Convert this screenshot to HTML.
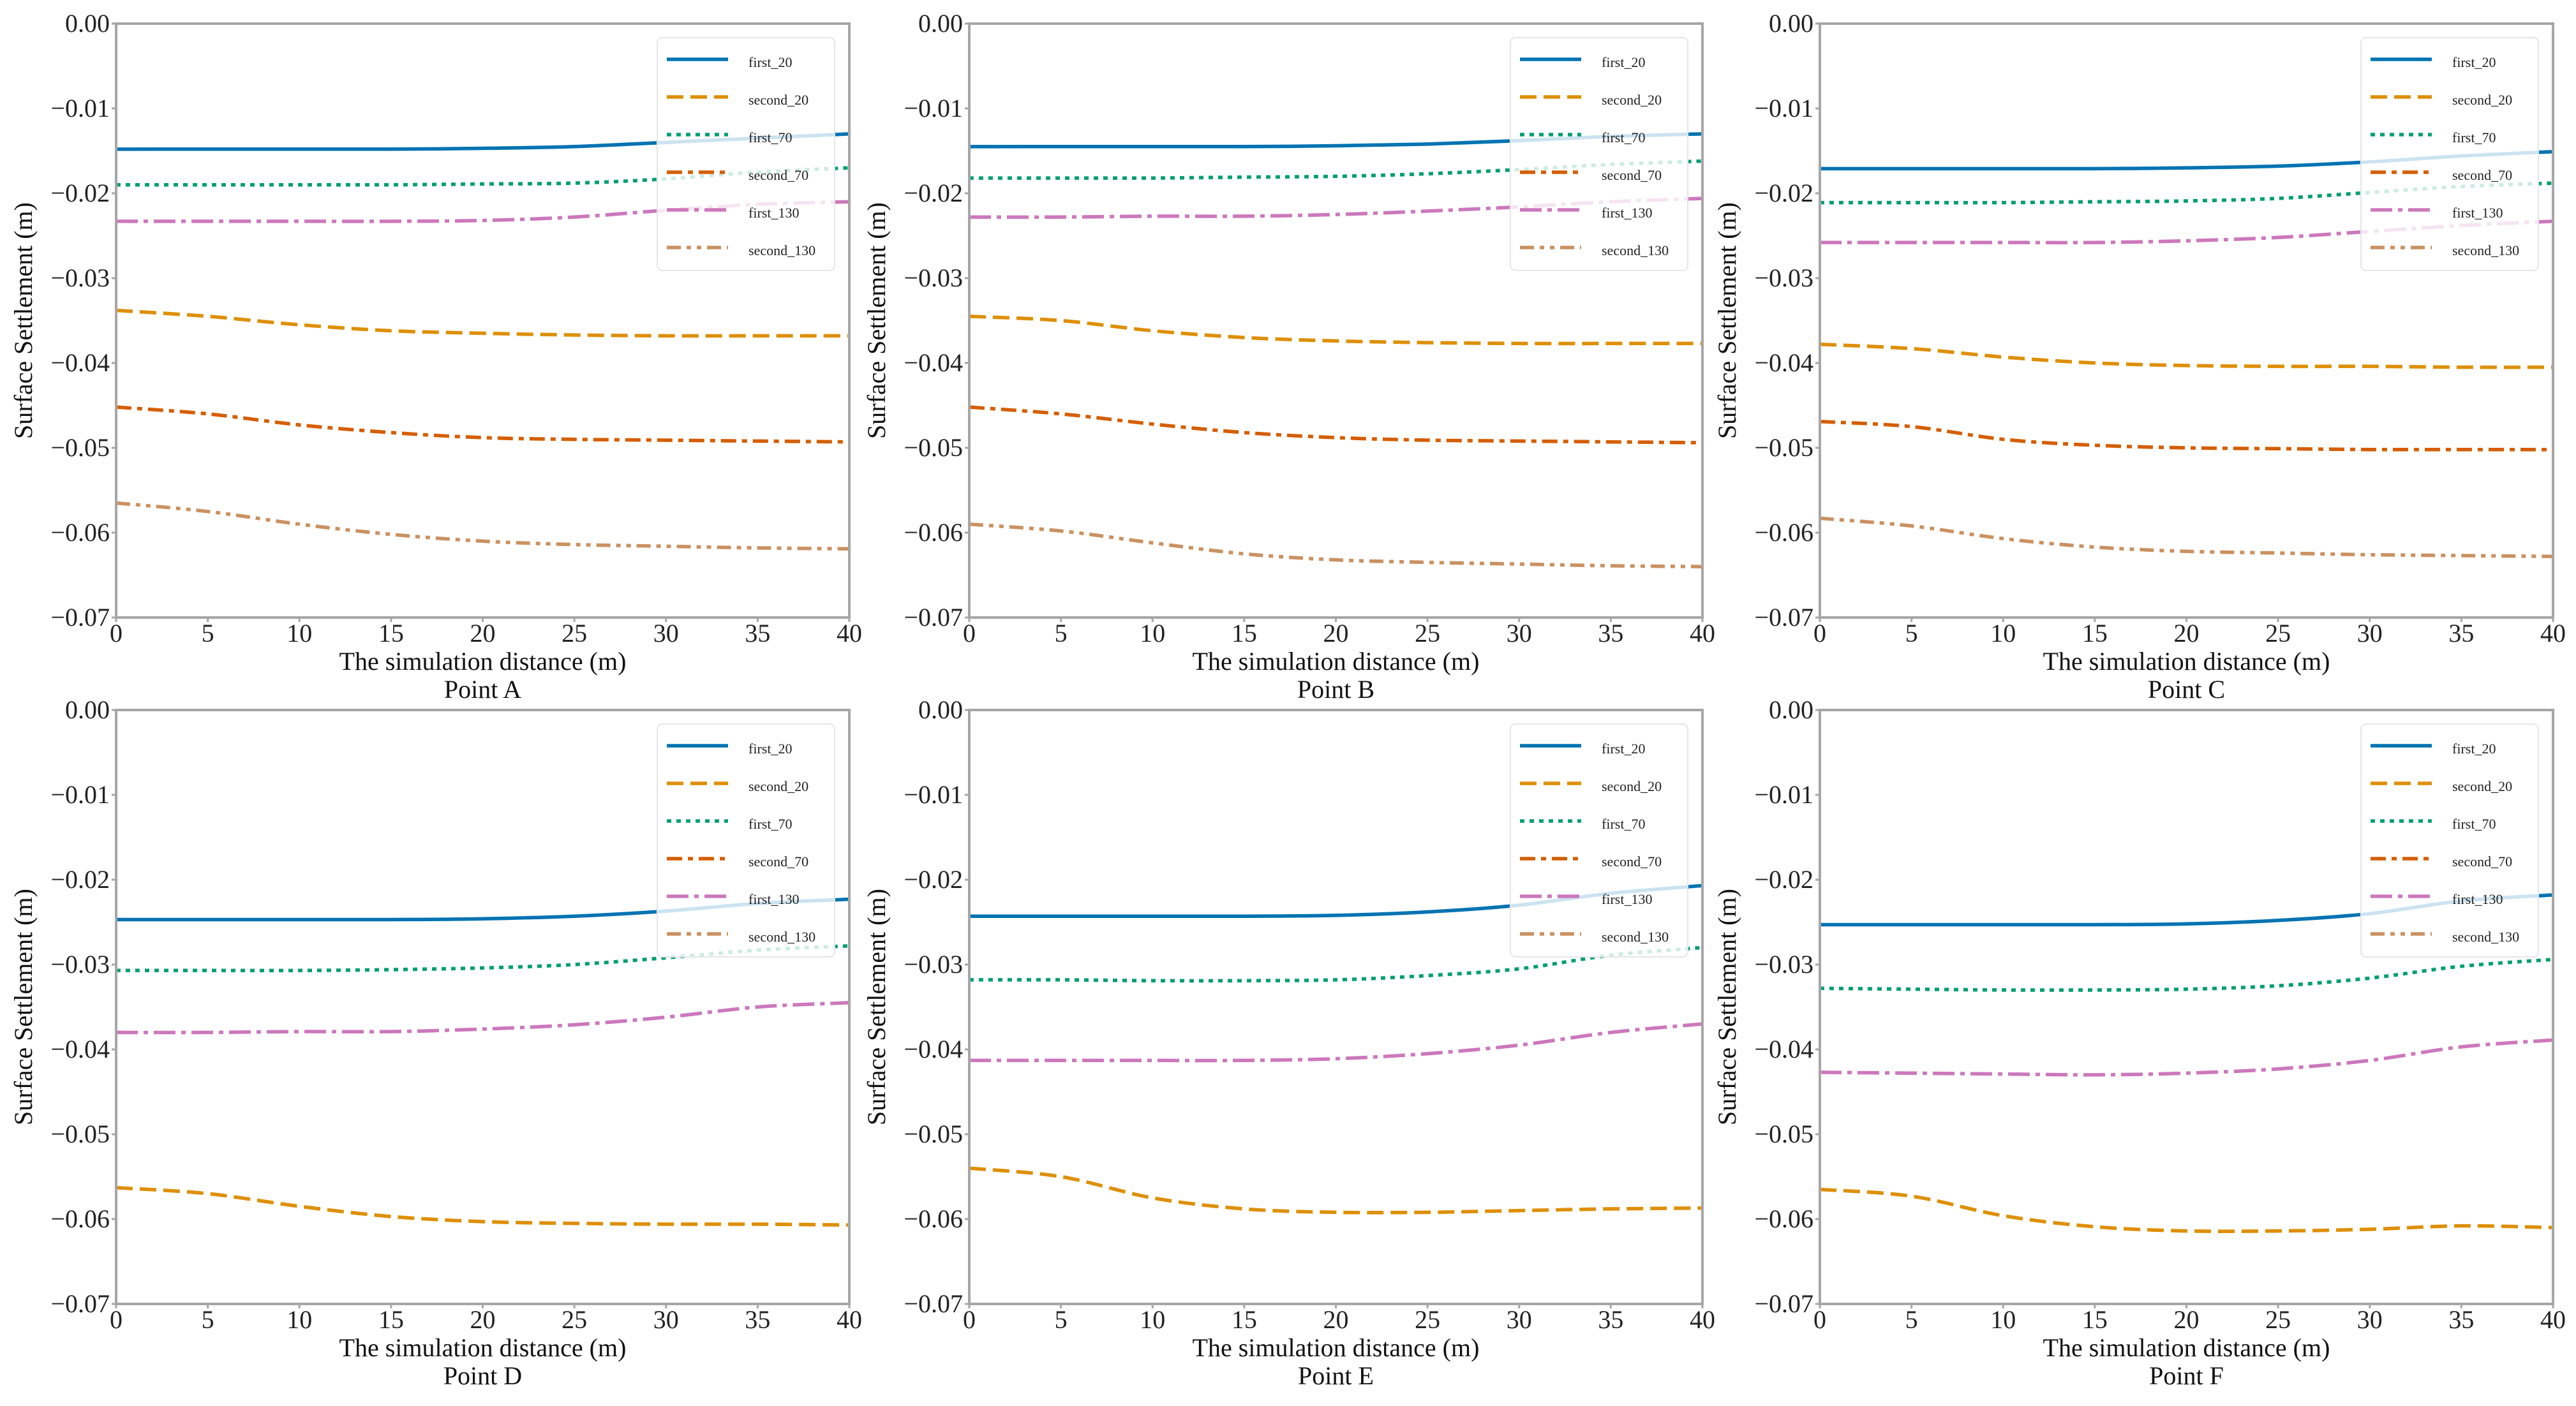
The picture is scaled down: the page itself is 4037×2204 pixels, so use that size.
<!DOCTYPE html>
<html><head><meta charset="utf-8"><style>
html,body{margin:0;padding:0;background:#fff;}
svg{display:block;font-family:"Liberation Serif",serif;}
</style></head><body>
<svg id="chart" width="4037" height="2204" viewBox="0 0 4037 2204" xmlns="http://www.w3.org/2000/svg"></svg>
<script>
const xs = [0,5,10,15,20,25,30,35,40];
const xTicks = [0,5,10,15,20,25,30,35,40];
const yTicks = [0,-0.01,-0.02,-0.03,-0.04,-0.05,-0.06,-0.07];
const yTickLabels = ["0.00","\u22120.01","\u22120.02","\u22120.03","\u22120.04","\u22120.05","\u22120.06","\u22120.07"];
const seriesNames = ["first_20","second_20","first_70","second_70","first_130","second_130"];
const panelTitles = ["Point A","Point B","Point C","Point D","Point E","Point F"];

const A_first20 = [-0.0148,-0.0148,-0.0148,-0.0148,-0.0147,-0.0145,-0.0140,-0.0135,-0.0130];
const A_second20 = [-0.0338,-0.0345,-0.0355,-0.0362,-0.0365,-0.0367,-0.0368,-0.0368,-0.0368];
const A_first70 = [-0.0190,-0.0190,-0.0190,-0.0190,-0.0189,-0.0188,-0.0183,-0.0175,-0.0170];
const A_second70 = [-0.0452,-0.0460,-0.0473,-0.0482,-0.0488,-0.0490,-0.0491,-0.0492,-0.0493];
const A_first130 = [-0.0233,-0.0233,-0.0233,-0.0233,-0.0232,-0.0228,-0.0220,-0.0213,-0.0210];
const A_second130 = [-0.0565,-0.0575,-0.0590,-0.0602,-0.0610,-0.0614,-0.0616,-0.0618,-0.0619];

const B_first20 = [-0.0145,-0.0145,-0.0145,-0.0145,-0.0144,-0.0142,-0.0138,-0.0133,-0.0130];
const B_second20 = [-0.0345,-0.0350,-0.0362,-0.0370,-0.0374,-0.0376,-0.0377,-0.0377,-0.0377];
const B_first70 = [-0.0182,-0.0182,-0.0182,-0.0181,-0.0180,-0.0177,-0.0172,-0.0166,-0.0162];
const B_second70 = [-0.0452,-0.0460,-0.0472,-0.0482,-0.0488,-0.0491,-0.0492,-0.0493,-0.0494];
const B_first130 = [-0.0228,-0.0228,-0.0227,-0.0227,-0.0225,-0.0221,-0.0216,-0.0210,-0.0206];
const B_second130 = [-0.0590,-0.0598,-0.0612,-0.0625,-0.0632,-0.0635,-0.0637,-0.0639,-0.0640];

const C_first20 = [-0.0171,-0.0171,-0.0171,-0.0171,-0.0170,-0.0168,-0.0163,-0.0156,-0.0151];
const C_second20 = [-0.0378,-0.0383,-0.0393,-0.0400,-0.0403,-0.0404,-0.0404,-0.0405,-0.0405];
const C_first70 = [-0.0211,-0.0211,-0.0211,-0.0210,-0.0209,-0.0206,-0.0199,-0.0192,-0.0188];
const C_second70 = [-0.0469,-0.0475,-0.0490,-0.0497,-0.0500,-0.0501,-0.0502,-0.0502,-0.0502];
const C_first130 = [-0.0258,-0.0258,-0.0258,-0.0258,-0.0256,-0.0252,-0.0245,-0.0238,-0.0233];
const C_second130 = [-0.0583,-0.0592,-0.0607,-0.0617,-0.0622,-0.0624,-0.0626,-0.0627,-0.0628];

const D_first20 = [-0.0247,-0.0247,-0.0247,-0.0247,-0.0246,-0.0243,-0.0237,-0.0228,-0.0223];
const D_second20 = [-0.0563,-0.0570,-0.0585,-0.0597,-0.0603,-0.0605,-0.0606,-0.0606,-0.0607];
const D_first70 = [-0.0307,-0.0307,-0.0307,-0.0306,-0.0304,-0.0300,-0.0292,-0.0283,-0.0278];
const D_first130 = [-0.0380,-0.0380,-0.0379,-0.0379,-0.0376,-0.0371,-0.0362,-0.0350,-0.0345];

const E_first20 = [-0.0243,-0.0243,-0.0243,-0.0243,-0.0242,-0.0238,-0.0230,-0.0216,-0.0207];
const E_second20 = [-0.0540,-0.0550,-0.0575,-0.0588,-0.0592,-0.0592,-0.0590,-0.0588,-0.0587];
const E_first70 = [-0.0318,-0.0318,-0.0319,-0.0319,-0.0318,-0.0313,-0.0305,-0.0289,-0.0280];
const E_first130 = [-0.0413,-0.0413,-0.0413,-0.0413,-0.0411,-0.0405,-0.0395,-0.0380,-0.0370];

const F_first20 = [-0.0253,-0.0253,-0.0253,-0.0253,-0.0252,-0.0248,-0.0240,-0.0225,-0.0218];
const F_second20 = [-0.0565,-0.0573,-0.0596,-0.0609,-0.0614,-0.0614,-0.0612,-0.0608,-0.0610];
const F_first70 = [-0.0328,-0.0329,-0.0330,-0.0330,-0.0329,-0.0325,-0.0316,-0.0302,-0.0294];
const F_first130 = [-0.0427,-0.0428,-0.0429,-0.0430,-0.0428,-0.0423,-0.0413,-0.0397,-0.0389];

const panelData = [
  [A_first20,A_second20,A_first70,A_second70,A_first130,A_second130],
  [B_first20,B_second20,B_first70,B_second70,B_first130,B_second130],
  [C_first20,C_second20,C_first70,C_second70,C_first130,C_second130],
  [D_first20,D_second20,D_first70,null,D_first130,null],
  [E_first20,E_second20,E_first70,null,E_first130,null],
  [F_first20,F_second20,F_first70,null,F_first130,null]
];

const colors = ["#0173b2","#de8f05","#029e73","#d55e00","#cc78bc","#ca9161"];
const dashes = ["", "26 11", "7 8", "24 9 8 9", "34 9 7 9", "22 9 7 9 7 9"];
const cols = [182,1519,2852];
const rows = [37,1113];
const PW = 1149, PH = 931;
const NS = "http://www.w3.org/2000/svg";
const svg = document.getElementById("chart");
function mk(tag, attrs, parent){
  const e = document.createElementNS(NS, tag);
  for (const k in attrs) e.setAttribute(k, attrs[k]);
  parent.appendChild(e); return e;
}
function pathFrom(pts){
  let d = "M"+pts[0][0]+","+pts[0][1];
  for (let i=0;i<pts.length-1;i++){
    const p0=pts[Math.max(0,i-1)], p1=pts[i], p2=pts[i+1], p3=pts[Math.min(pts.length-1,i+2)];
    const c1=[p1[0]+(p2[0]-p0[0])/6, p1[1]+(p2[1]-p0[1])/6];
    const c2=[p2[0]-(p3[0]-p1[0])/6, p2[1]-(p3[1]-p1[1])/6];
    d+=" C"+c1[0].toFixed(1)+","+c1[1].toFixed(1)+" "+c2[0].toFixed(1)+","+c2[1].toFixed(1)+" "+p2[0].toFixed(1)+","+p2[1].toFixed(1);
  }
  return d;
}
panelData.forEach((series, pi) => {
  const L = cols[pi%3], T = rows[Math.floor(pi/3)];
  const xS = v => L + v/40*PW;
  const yS = v => T + (-v)/0.07*PH;
  const g = mk("g", {}, svg);
  
  
  // series
  series.forEach((vals, si) => {
    if (!vals) return;
    const pts = vals.map((v,i)=>[xS(xs[i]), yS(v)]);
    const p = mk("path", {d:pathFrom(pts), fill:"none", stroke:colors[si], "stroke-width":5.5}, g);
    if (dashes[si]) p.setAttribute("stroke-dasharray", dashes[si]);
    
    
  });
  // axes frame
  const fr = mk("rect", {x:L, y:T, width:PW, height:PH, fill:"none", stroke:"#a6a6a6", "stroke-width":4}, g);
  
  
  // x ticks
  xTicks.forEach(t => {
    const x = xS(t);
    mk("line", {x1:x, y1:T+PH, x2:x, y2:T+PH+7, stroke:"#a6a6a6", "stroke-width":3}, g);
    const tx = mk("text", {x:x, y:T+PH+38, "font-size":40, "text-anchor":"middle", fill:"#222"}, g);
    tx.textContent = t;
    
    
  });
  yTicks.forEach((t, i) => {
    const y = yS(t);
    mk("line", {x1:L-7, y1:y, x2:L, y2:y, stroke:"#a6a6a6", "stroke-width":3}, g);
    const ty = mk("text", {x:L-10, y:y+13, "font-size":40, "text-anchor":"end", fill:"#222"}, g);
    ty.textContent = yTickLabels[i];
    
    
  });
  const xl = mk("text", {x:L+PW/2, y:T+PH+82, "font-size":40, "text-anchor":"middle", fill:"#111"}, g);
  xl.textContent = "The simulation distance (m)";
  
  
  const pt = mk("text", {x:L+PW/2, y:T+PH+126, "font-size":40, "text-anchor":"middle", fill:"#111"}, g);
  pt.textContent = panelTitles[pi];
  
  
  const cy = T+PH/2, cx = L-132;
  const yl = mk("text", {x:cx, y:cy, "font-size":40, "text-anchor":"middle", fill:"#111", transform:"rotate(-90 "+cx+" "+cy+")"}, g);
  yl.textContent = "Surface Settlement (m)";
  
  
  // legend
  const lg = mk("g", {}, g);
  
  
  mk("rect", {x:L+PW-301, y:T+22, width:278, height:365, rx:8, fill:"#fff", "fill-opacity":0.8, stroke:"#e6e6e6", "stroke-width":2}, lg);
  seriesNames.forEach((n, si) => {
    const ly = T+56+si*59;
    const ll = mk("line", {x1:L+PW-286, y1:ly, x2:L+PW-190, y2:ly, stroke:colors[si], "stroke-width":5.5}, lg);
    if (dashes[si]) ll.setAttribute("stroke-dasharray", dashes[si]);
    const lt = mk("text", {x:L+PW-158, y:ly+12, "font-size":22, fill:"#222"}, lg);
    lt.textContent = n;
    
    
  });
});
</script>
</body></html>
